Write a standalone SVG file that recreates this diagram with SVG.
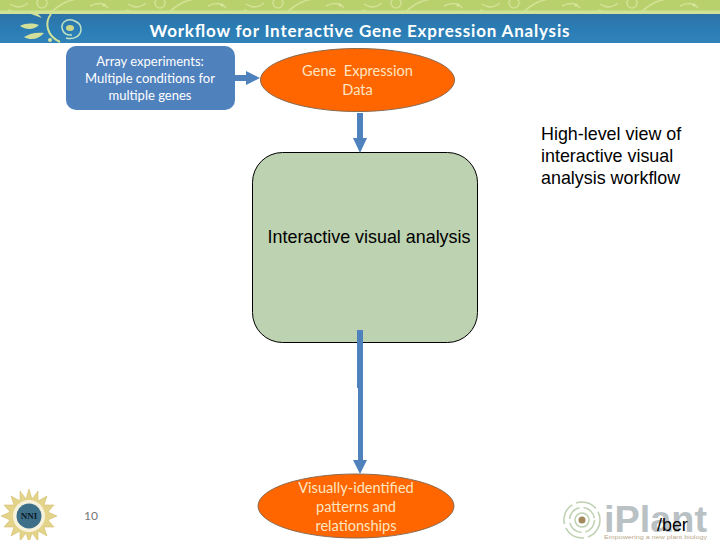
<svg xmlns="http://www.w3.org/2000/svg" width="720" height="540" viewBox="0 0 720 540">
<style>
.sans{font-family:"Liberation Sans",Arial,sans-serif;fill:#000;font-size:17.900px}
.cal{font-family:Lato,"Open Sans",sans-serif}
.w{fill:#fff;font-size:13px;text-anchor:middle}
.o{fill:#fde5c0;font-size:14.600px;text-anchor:middle}
.sw{fill:none;stroke:#dbe6a0;stroke-width:1.500;opacity:.75}
.conn{stroke:#4f81bd;fill:none}
.head{fill:#4f81bd}
</style>
<defs>
<linearGradient id="blue" x1="0" y1="0" x2="0" y2="1"><stop offset="0" stop-color="#2e72a6"/><stop offset=".5" stop-color="#2a7db4"/><stop offset="1" stop-color="#3183ba"/></linearGradient>
<g id="sw">
<circle cx="42" cy="3" r="5" class="sw"/>
<path class="sw" d="M50 13C58 6 66 0 78 -1M10 4C16 8 22 8 28 3M90 6C98 2 104 3 108 8M8 10l4 1M14 6l3 1"/>
<circle cx="104" cy="5" r="1.500" fill="#dbe6a0"/>
</g>
</defs>
<rect width="720" height="540" fill="#fff"/>
<g id="banner">
<rect width="720" height="14" fill="#b9d16d"/>
<use href="#sw" x="0"/><use href="#sw" x="118"/><use href="#sw" x="236"/><use href="#sw" x="354"/><use href="#sw" x="472"/><use href="#sw" x="590"/>
<rect y="10.500" width="720" height="3.500" fill="#cfe296"/>
<rect y="14" width="720" height="29" fill="url(#blue)"/>
<path d="M20 26C26 23 32 23 39 25C34 30 26 30 20 26ZM24 37C30 33 37 32 44 33C39 39 31 41 24 37ZM31 14L42 18L38 14Z" fill="#d3e09a"/>
<path d="M51 14C44 23 47 36 60 42" fill="none" stroke="#cfe296" stroke-width="2"/>
<path d="M72 35C62 36 60 26 64 22C70 17 81 22 81 29C81 36 74 40 66 38" fill="none" stroke="#bfe2c4" stroke-width="1.500"/>
<ellipse cx="70" cy="28" rx="4" ry="3" fill="#cdd98a"/>
<circle cx="50" cy="40" r="2" fill="#d3e09a"/>
<text x="359.500" y="37" class="cal" font-size="17" font-weight="700" fill="#fff" text-anchor="middle" textLength="420" lengthAdjust="spacing">Workflow for Interactive Gene Expression Analysis</text>
</g>
<g id="node-array">
<rect x="66" y="46" width="169" height="64" rx="10" fill="#4f81bd"/>
<text class="cal w" x="150" y="66">Array experiments:</text>
<text class="cal w" x="150" y="83">Multiple conditions for</text>
<text class="cal w" x="150" y="100">multiple genes</text>
</g>
<g id="node-gene">
<ellipse cx="357.500" cy="80" rx="97" ry="31.500" fill="#ff6600" stroke="#8a6a50" stroke-width="1"/>
<text class="cal o" x="357.500" y="76" xml:space="preserve">Gene  Expression</text>
<text class="cal o" x="357.500" y="95">Data</text>
</g>
<g id="node-analysis">
<rect x="252.500" y="152.500" width="225" height="190" rx="30" fill="#bcd2b0" stroke="#000" stroke-width="1"/>
<text class="sans" x="369" y="243" text-anchor="middle">Interactive visual analysis</text>
</g>
<g id="node-patterns">
<ellipse cx="356" cy="506" rx="98" ry="32" fill="#ff6600" stroke="#8a6a50" stroke-width="1"/>
<text class="cal o" x="356" y="493">Visually-identified</text>
<text class="cal o" x="356" y="512">patterns and</text>
<text class="cal o" x="356" y="531">relationships</text>
</g>
<g id="connectors">
<path class="conn" stroke-width="6" d="M235 78H247"/>
<path class="head" d="M246 71L260 78L246 85Z"/>
<path class="conn" stroke-width="6" d="M360 113V139"/>
<path class="head" d="M353 138H367L360 153Z"/>
<path class="conn" stroke-width="6" d="M360 330V388"/>
<path class="conn" stroke-width="5" d="M360.500 388V462"/>
<path class="head" d="M353 460H367L360 474Z"/>
</g>
<g id="note">
<text class="sans" x="541" y="140">High-level view of</text>
<text class="sans" x="541" y="162">interactive visual</text>
<text class="sans" x="541" y="184">analysis workflow</text>
</g>
<g id="nni-logo">
<path fill="#e4d48a" stroke="#cdb65e" stroke-width=".5" d="M29 489L32 499L38 491L38 501L47 496L44 505L54 505L48 512L57 516L48 520L54 527L44 527L47 536L38 531L38 541L32 533L29 543L26 533L20 541L20 531L11 536L14 527L4 527L10 520L1 516L10 512L4 505L14 505L11 496L20 501L20 491L26 499Z"/>
<circle cx="29" cy="516" r="16" fill="#fff" opacity=".7"/>
<circle cx="29" cy="516" r="12.500" fill="#3d7088"/>
<text x="29" y="519" font-family="Liberation Serif,serif" font-size="9" font-weight="700" fill="#0d1a2a" text-anchor="middle">NNI</text>
</g>
<text id="page-number" class="cal" x="91" y="520" font-size="12" fill="#777" text-anchor="middle">10</text>
<g id="iplant-logo">
<g fill="none" stroke="#bdd0b0" stroke-width="1.500">
<circle cx="582" cy="520" r="18" stroke-dasharray="22 4"/><circle cx="582" cy="520" r="12.500" stroke-dasharray="16 4"/><circle cx="582" cy="520" r="7"/>
</g>
<circle cx="582" cy="520" r="3.500" fill="#a08a5c"/>
<text x="604" y="532" font-family="Liberation Sans,sans-serif" font-size="37" font-weight="700" fill="#b9c1c4" textLength="103" lengthAdjust="spacingAndGlyphs">iPlant</text>
<text x="604" y="539" font-family="Liberation Sans,sans-serif" font-size="6" fill="#b9a98a" textLength="103" lengthAdjust="spacingAndGlyphs">Empowering a new plant biology</text>
</g>
<text id="ber" class="sans" x="657" y="531">/ber</text>
</svg>
